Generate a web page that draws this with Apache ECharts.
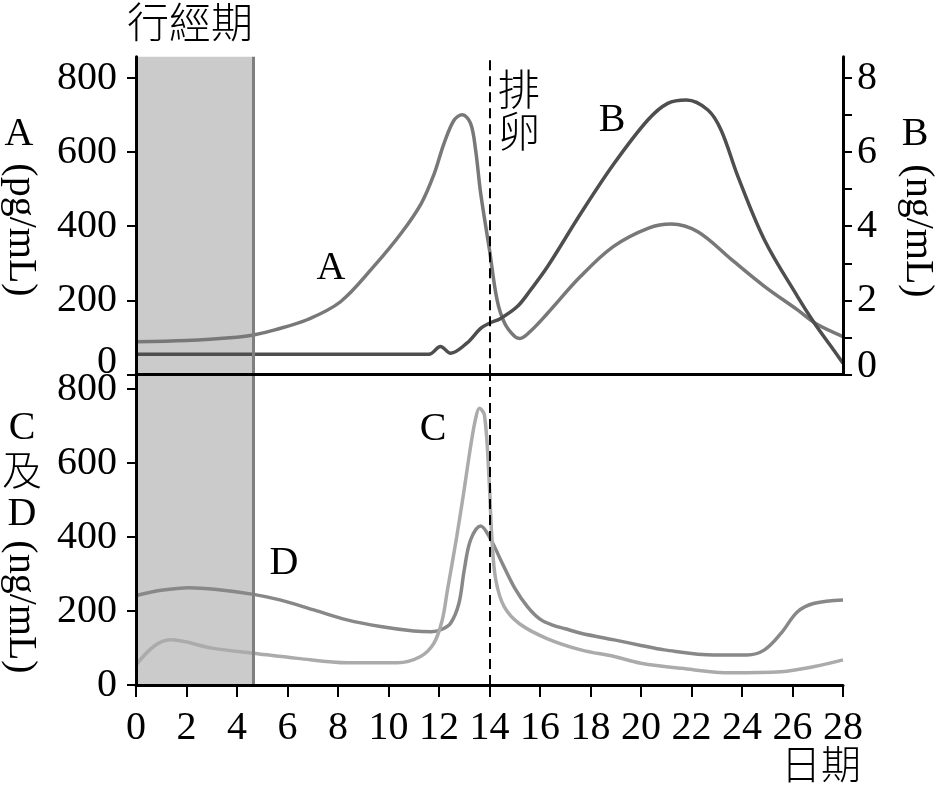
<!DOCTYPE html>
<html><head><meta charset="utf-8">
<script src="https://cdn.jsdelivr.net/npm/echarts@6/dist/echarts.min.js"></script>
<style>html,body{margin:0;padding:0;background:#fff}#c{width:940px;height:787px}</style>
</head><body><div id="c"></div>
<script>
// Hormone A (pg/mL, left axis top)
const daysA = [0,2,4,4.65,5.5,6.8,8.1,9.4,10.5,11.3,11.8,12.2,12.6,12.92,13.25,13.45,13.65,14.0,14.3,14.6,15.0,15.2,15.6,16.3,17.6,18.9,20.3,21.2,22.25,23.6,24.9,26.2,26.9,28];
const valsA = [88,91,100,106,120,148,196,290,381,462,540,624,687,701,678,606,489,336,201,138,102,97,115,165,264,345,395,406,385,309,237,174,138,102];
// Hormone B (ng/mL, right axis top)
const daysB = [0,11.6,12.06,12.46,13.1,13.65,14.0,14.44,15.1,15.63,16.3,17.62,18.94,20.27,21.06,21.8,22.65,23.17,23.84,24.89,26.2,26.87,27.53,28];
const valsB = [0.54,0.54,0.75,0.57,0.84,1.24,1.38,1.51,1.83,2.28,2.91,4.35,5.7,6.87,7.32,7.41,7.14,6.6,5.34,3.63,2.1,1.38,0.75,0.3];
// Hormone C (ng/mL, bottom)
const daysC = [0,0.7,1.35,3.07,4.65,6.4,8.4,10.35,11.27,11.8,12.13,12.33,12.7,13.0,13.25,13.45,13.6,13.8,13.98,14.1,14.25,14.58,15.2,16.3,17.62,18.94,20,21.6,23.57,25.55,26.87,28];
const valsC = [54,104,122,99,86,72,60,60,77,113,176,255,400,530,644,720,748,730,560,390,284,212,165,125,95,77,59,45,33,36,50,68];
// Hormone D (ng/mL, bottom)
const daysD = [0,1,2.1,3.2,4.65,5.7,7.04,8.36,9.68,11,11.7,12.1,12.46,12.79,13.0,13.25,13.65,14.0,14.5,15.0,15.5,16.0,16.5,17.0,17.62,18.94,20,20.92,22.9,24.2,24.89,25.55,26.2,26.87,28];
const valsD = [242,256,263,258,245,230,203,176,158,146,144,150,167,221,311,392,430,400,330,262,212,178,162,152,140,122,107,95,81,81,95,140,198,221,230];
// Axis ticks
const xTicks = [0,2,4,6,8,10,12,14,16,18,20,22,24,26,28];
const leftTicks = [0,200,400,600,800];
const rightTicks = [0,1,2,3,4,5,6,7,8];
const rightLabels = [0,2,4,6,8];
const mensesEnd = 4.65;
const ovulationDay = 14;

const pairs = (d, v) => d.map((x, i) => [x, v[i]]);
const serif = 'Liberation Serif';
const cjk = '"Noto Sans CJK TC", "Noto Sans CJK SC", sans-serif';
const axisLineStyle = { color: '#000', width: 3 };

const shade = (xi, yi) => ({
  type: 'line', xAxisIndex: xi, yAxisIndex: yi, data: [], silent: true,
  markArea: { silent: true, itemStyle: { color: '#cbcbcb', opacity: 1 }, data: [[{ xAxis: 0 }, { xAxis: mensesEnd }]] },
  markLine: { silent: true, symbol: 'none', label: { show: false },
    data: [
      { xAxis: mensesEnd, lineStyle: { color: '#7f7f7f', width: 3, type: 'solid' } },
      { xAxis: ovulationDay, lineStyle: { color: '#000', width: 2, type: [10, 6] } }
    ] },
  z: 1
});

const lineSeries = (name, xi, yi, d, v, color) => ({
  name, type: 'line', xAxisIndex: xi, yAxisIndex: yi, data: pairs(d, v),
  smooth: 0.35, showSymbol: false, symbol: 'none',
  lineStyle: { color, width: 3.5 }, z: 3
});

const txt = (text, x, y, font, rot) => ({
  type: 'text', x, y, rotation: rot || 0, z: 50,
  style: { text, font, fill: '#000', align: 'center', verticalAlign: 'middle', textAlign: 'center', textVerticalAlign: 'middle' }
});
const lbl = { fontFamily: serif, fontSize: 40, color: '#000' };
const sf = '40px "Liberation Serif"';

const chart = echarts.init(document.getElementById('c'));
chart.setOption({
  animation: false,
  backgroundColor: '#fff',
  textStyle: { fontFamily: serif },
  grid: [
    { left: 136, right: 97, top: 56.7, height: 317.6, outerBoundsMode: 'none' },
    { left: 136, right: 97, top: 374.3, height: 310.7, outerBoundsMode: 'none' }
  ],
  xAxis: [
    { gridIndex: 0, type: 'value', min: 0, max: 28, interval: 2, z: 10,
      axisLine: { lineStyle: axisLineStyle }, axisTick: { show: false }, axisLabel: { show: false }, splitLine: { show: false } },
    { gridIndex: 1, type: 'value', min: 0, max: 28, interval: 2, z: 10,
      axisLine: { lineStyle: axisLineStyle },
      axisTick: { length: 12, lineStyle: { color: '#000', width: 2 }, customValues: xTicks },
      axisLabel: Object.assign({ customValues: xTicks, margin: 23, hideOverlap: false }, lbl),
      splitLine: { show: false } }
  ],
  yAxis: [
    { gridIndex: 0, type: 'value', min: 0, max: 858, position: 'left', z: 10,
      axisLine: { show: true, lineStyle: axisLineStyle },
      axisTick: { show: true, length: 9, lineStyle: { color: '#000', width: 2 }, customValues: leftTicks },
      axisLabel: Object.assign({ customValues: leftTicks, margin: 19,
        formatter: v => v === 0 ? '{z|0}' : String(v),
        rich: { z: Object.assign({ padding: [0, 0, 24, 0] }, lbl) } }, lbl),
      splitLine: { show: false } },
    { gridIndex: 0, type: 'value', min: 0, max: 8.58, position: 'right', z: 10,
      axisLine: { show: true, lineStyle: axisLineStyle },
      axisTick: { show: true, length: 9, lineStyle: { color: '#000', width: 2 }, customValues: rightTicks },
      axisLabel: Object.assign({ customValues: rightLabels, margin: 14,
        formatter: v => v === 0 ? '{z|0}' : String(v),
        rich: { z: Object.assign({ padding: [0, 0, 16, 0] }, lbl) } }, lbl),
      splitLine: { show: false } },
    { gridIndex: 1, type: 'value', min: 0, max: 840, position: 'left', z: 10,
      axisLine: { show: true, lineStyle: axisLineStyle },
      axisTick: { show: true, length: 9, lineStyle: { color: '#000', width: 2 }, customValues: leftTicks },
      axisLabel: Object.assign({ customValues: leftTicks, margin: 19 }, lbl),
      splitLine: { show: false } }
  ],
  series: [
    shade(0, 0),
    shade(1, 2),
    lineSeries('A', 0, 0, daysA, valsA, '#787878'),
    lineSeries('B', 0, 1, daysB, valsB, '#4e4e4e'),
    lineSeries('D', 1, 2, daysD, valsD, '#888888'),
    lineSeries('C', 1, 2, daysC, valsC, '#ababab')
  ],
  graphic: [
    txt('行經期', 190, 22, '300 42px ' + cjk),
    txt('排\n卵', 519, 110, '300 42px ' + cjk),
    txt('日期', 821, 764, '300 40px ' + cjk),
    txt('A', 331, 268, sf),
    txt('B', 612, 120, sf),
    txt('C', 433, 429, sf),
    txt('D', 284, 563, sf),
    txt('A', 19, 134, sf),
    txt('(pg/mL)', 20, 230, sf, -Math.PI / 2),
    txt('B', 915, 134, sf),
    txt('(ng/mL)', 917, 231, sf, -Math.PI / 2),
    txt('C', 22, 428, sf),
    txt('及', 22, 470, '300 40px ' + cjk),
    txt('D', 22, 514, sf),
    txt('(ng/mL)', 20, 607, sf, -Math.PI / 2)
  ]
});
</script>
</body></html>
